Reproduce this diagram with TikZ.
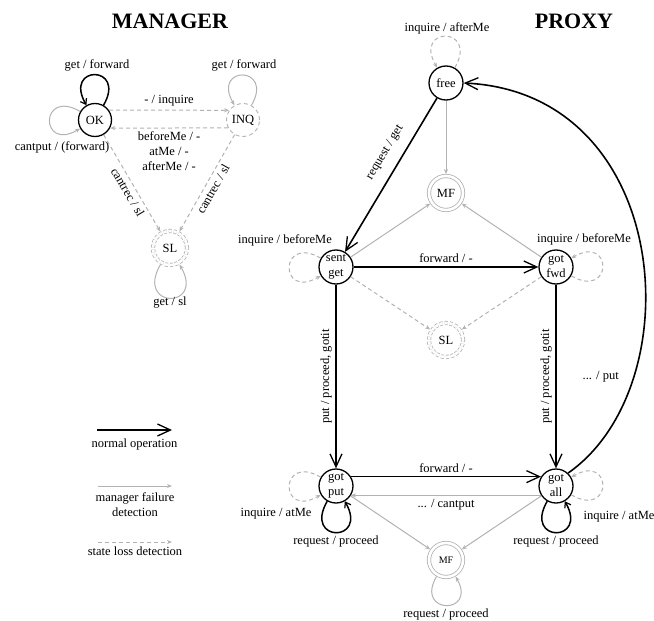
\documentclass[tikz,border=0pt]{standalone}
\usepackage{fontspec}
\setmainfont{Liberation Serif}
\usetikzlibrary{arrows.meta}
\definecolor{fade}{RGB}{178,178,178}
\begin{document}
\begin{tikzpicture}[x=1pt,y=-1pt,
  every node/.style={font=\fontsize{12.5}{15}\selectfont},
  st/.style={circle, draw, line width=1.3pt, minimum size=34pt, inner sep=0pt, align=center},
  ghost/.style={circle, draw=fade, dash pattern=on 4pt off 3pt, line width=0.9pt, minimum size=34pt, inner sep=0pt},
  mf/.style={circle, draw=fade, line width=0.8pt, double, double distance=2.6pt, minimum size=34pt, inner sep=0pt, outer sep=2pt},
  mfdash/.style={mf, dash pattern=on 3pt off 2pt},
  normal/.style={line width=1.6pt, -{Straight Barb[length=13pt,width=12pt,line width=1.3pt]}},
  selfloop/.style={line width=1.5pt, -{Straight Barb[length=5pt,width=7pt,line width=1.2pt]}},
  fail/.style={draw=fade, line width=1pt, -{Stealth[length=5pt,width=4pt]}},
  lost/.style={draw=fade, dash pattern=on 4pt off 3pt, line width=1pt, -{Stealth[length=5pt,width=4pt]}},
  title/.style={font=\fontsize{22}{26}\selectfont\bfseries},
]
\useasboundingbox (0,0) rectangle (654,621);

% ---------- titles ----------
\node[title] (mgrtitle) at (170,21) {MANAGER};
\node[title] (pxytitle) at (574,21) {PROXY};

% ---------- manager states ----------
\node[st, minimum size=33pt] (OK) at (95,120) {OK};
\node[ghost, minimum size=33pt] (INQ) at (243,120) {INQ};
\node[mfdash] (SLm) at (170,248) {SL};

\draw[selfloop] (OK) to[out=60,in=120,looseness=7] (OK);
\node (lokget) at (97,65) {get / forward};
\draw[fail] (OK) to[out=150,in=210,looseness=7] (OK);
\node (lokput) at (62,147) {cantput / (forward)};
\draw[fail] (INQ) to[out=60,in=120,looseness=7] (INQ);
\node (linqget) at (244,65) {get / forward};

\draw[lost] (OK.35) -- node[above] {- / inquire} (INQ.145);
\draw[lost] (INQ.-152) -- node[below, align=center] {beforeMe / -\\atMe / -\\afterMe / -} (OK.-28);
\draw[lost] (OK) -- node[sloped, below, pos=.55] {cantrec / sl} (SLm);
\draw[lost] (INQ) -- node[sloped, below, pos=.52] {cantrec / sl} (SLm);
\draw[fail] (SLm) to[out=240,in=300,looseness=7] (SLm);
\node (lslget) at (170,303) {get / sl};

% ---------- proxy states ----------
\node[st] (free) at (446,83) {free};
\node[mf] (MFa) at (446,193) {MF};
\node[st] (sentget) at (336,267) {sent\\get};
\node[st] (gotfwd) at (556,267) {got\\fwd};
\node[mfdash] (SLp) at (446,340) {SL};
\node[st] (gotput) at (336,486) {got\\put};
\node[st] (gotall) at (556,486) {got\\all};
\node[mf, font=\fontsize{10}{12}\selectfont] (MFb) at (446,560) {MF};

\draw[lost] (free) to[out=60,in=120,looseness=7] (free);
\node (lfreeinq) at (447,28) {inquire / afterMe};
\draw[fail] (free) -- (MFa);
\draw[normal] (free) -- node[sloped, above=7pt, pos=.41] {request / get} (sentget);

\draw[normal] (sentget) -- node[above] {forward / -} (gotfwd);
\draw[fail] (sentget) -- (MFa);
\draw[fail] (gotfwd) -- (MFa);
\draw[lost] (sentget) -- (SLp);
\draw[lost] (gotfwd) -- (SLp);
\draw[lost] (sentget) to[out=150,in=210,looseness=7] (sentget);
\node (lsginq) at (285,240) {inquire / beforeMe};
\draw[lost] (gotfwd) to[out=-30,in=30,looseness=7] (gotfwd);
\node (lgfinq) at (584,239) {inquire / beforeMe};

\draw[normal] (sentget) -- node[rotate=90, anchor=south] {put / proceed, gotit} (gotput);
\draw[normal] (gotfwd) -- node[rotate=90, anchor=south] {put / proceed, gotit} (gotall);

\draw[normal] (gotput.32) -- node[above] {forward / -} (gotall.148);
\draw[fail] (gotall.-148) -- node[below] {... / cantput} (gotput.-32);

\draw[lost] (gotput) to[out=150,in=210,looseness=7] (gotput);
\node (lgpinq) at (276,514) {inquire / atMe};
\draw[selfloop] (gotput) to[out=240,in=300,looseness=7] (gotput);
\node (lgpreq) at (336,541) {request / proceed};
\draw[lost] (gotall) to[out=-30,in=30,looseness=7] (gotall);
\node (lgainq) at (619,517) {inquire / atMe};
\draw[selfloop] (gotall) to[out=240,in=300,looseness=7] (gotall);
\node (lgareq) at (556,541) {request / proceed};

\draw[fail] (gotput) -- (MFb);
\draw[fail] (gotall) -- (MFb);
\draw[fail] (MFb) to[out=240,in=300,looseness=6] (MFb);
\node (lmfreq) at (446,614) {request / proceed};

\draw[normal] (gotall.47) .. controls (693,386) and (673,93) .. node[pos=.25, left=11pt] {... / put} (free.east);

% ---------- legend ----------
\coordinate (n0) at (97,430);
\coordinate (n1) at (172,430);
\coordinate (f0) at (98,486);
\coordinate (f1) at (172,486);
\coordinate (s0) at (98,542);
\coordinate (s1) at (172,542);
\draw[normal] (n0) -- node[below=5pt] {normal operation} (n1);
\draw[fail] (f0) -- node[below=3pt, align=center] {manager failure\\detection} (f1);
\draw[lost] (s0) -- node[below=1pt] {state loss detection} (s1);
\end{tikzpicture}
\end{document}
